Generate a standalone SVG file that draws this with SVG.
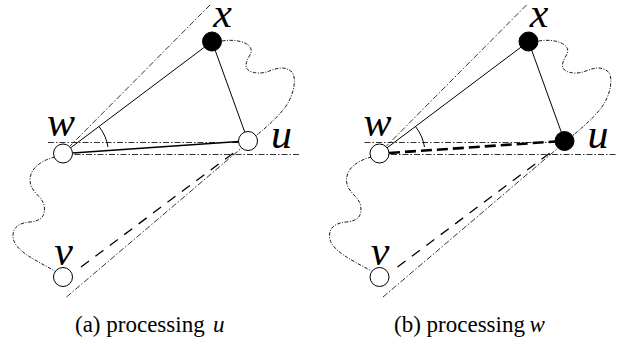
<svg xmlns="http://www.w3.org/2000/svg" width="619" height="346" viewBox="0 0 619 346">
<style>
.dd{fill:none;stroke:#000;stroke-width:0.8;stroke-dasharray:6 2 1.5 2}
.cv{fill:none;stroke:#000;stroke-width:0.9;stroke-dasharray:3.5 1.5 1 1.5}
.e{fill:none;stroke:#000;stroke-width:1}
.dash{fill:none;stroke:#000;stroke-width:1.3;stroke-dasharray:10 8}
.nw{fill:#fff;stroke:#000;stroke-width:1}
.nb{fill:#000;stroke:#000;stroke-width:1}
.lb{font-family:"Liberation Serif","Times New Roman",serif;font-style:italic;font-size:42px;text-anchor:middle}
.cap{font-family:"Liberation Serif","Times New Roman",serif;font-size:23px}
.m{font-style:italic}
</style>
<rect width="619" height="346" fill="#fff"/>
<g id="panel-a">
<g id="connectors-a">
<line class="dd" x1="48" y1="142.5" x2="248" y2="142.5"/>
<line class="dd" x1="63" y1="154.5" x2="300" y2="154.5"/>
<line class="dd" x1="210" y1="5" x2="70" y2="146"/>
<line class="dd" x1="66.5" y1="297" x2="258" y2="134"/>
<path class="cv" d="M222,41 C240,38 256,45 250,55 C245,63 242,72 258,73 C270,74 280,62 292,72 C298,80 292,100 283,110 C275,120 265,128 257,135"/>
<path class="cv" d="M55,157 C42,160 30,168 30,180 C30,192 42,196 44,205 C46,215 42,221 30,222 C18,223 13,228 13,236 C13,250 35,260 55,271"/>
<line class="e" x1="63" y1="153.5" x2="212" y2="41.5"/>
<line class="e" x1="212" y1="41.5" x2="248" y2="141"/>
<line class="e" style="stroke-width:1.6" x1="72.5" y1="153" x2="239" y2="141.5"/>
<line class="dash" x1="81" y1="267" x2="236" y2="151"/>
<path class="e" d="M99,126.5 A45,45 0 0 1 108,147"/>
</g>
<g id="node-x-a"><circle class="nb" cx="212" cy="41.5" r="9.5"/><text class="lb" x="222.5" y="27">x</text></g>
<g id="node-w-a"><circle class="nw" cx="63" cy="153.5" r="9.5"/><text class="lb" x="61" y="136">w</text></g>
<g id="node-u-a"><circle class="nw" cx="248" cy="141" r="9.5"/><text class="lb" x="281.5" y="148">u</text></g>
<g id="node-v-a"><circle class="nw" cx="63" cy="277" r="9.5"/><text class="lb" x="63.5" y="265">v</text></g>
<text class="cap" x="75" y="332">(a) processing <tspan class="m" x="213">u</tspan></text>
</g>
<g id="panel-b" transform="translate(316.5,0)">
<g id="connectors-b">
<line class="dd" x1="48" y1="142.5" x2="248" y2="142.5"/>
<line class="dd" x1="63" y1="154.5" x2="300" y2="154.5"/>
<line class="dd" x1="210" y1="5" x2="70" y2="146"/>
<line class="dd" x1="66.5" y1="297" x2="258" y2="134"/>
<path class="cv" d="M222,41 C240,38 256,45 250,55 C245,63 242,72 258,73 C270,74 280,62 292,72 C298,80 292,100 283,110 C275,120 265,128 257,135"/>
<path class="cv" d="M55,157 C42,160 30,168 30,180 C30,192 42,196 44,205 C46,215 42,221 30,222 C18,223 13,228 13,236 C13,250 35,260 55,271"/>
<line class="e" x1="63" y1="153.5" x2="212" y2="41.5"/>
<line class="e" x1="212" y1="41.5" x2="248" y2="141"/>
<line class="e" style="stroke-width:2.6;stroke-dasharray:11 5" x1="72.5" y1="153" x2="239" y2="141.5"/>
<line class="dash" x1="81" y1="267" x2="236" y2="151"/>
<path class="e" d="M99,126.5 A45,45 0 0 1 108,147"/>
</g>
<g id="node-x-b"><circle class="nb" cx="212" cy="41.5" r="9.5"/><text class="lb" x="222.5" y="27">x</text></g>
<g id="node-w-b"><circle class="nw" cx="63" cy="153.5" r="9.5"/><text class="lb" x="61" y="136">w</text></g>
<g id="node-u-b"><circle class="nb" cx="248" cy="141" r="9.5"/><text class="lb" x="281.5" y="148">u</text></g>
<g id="node-v-b"><circle class="nw" cx="63" cy="277" r="9.5"/><text class="lb" x="63.5" y="265">v</text></g>
<text class="cap" x="77.5" y="332">(b) processing <tspan class="m" x="213">w</tspan></text>
</g>
</svg>
